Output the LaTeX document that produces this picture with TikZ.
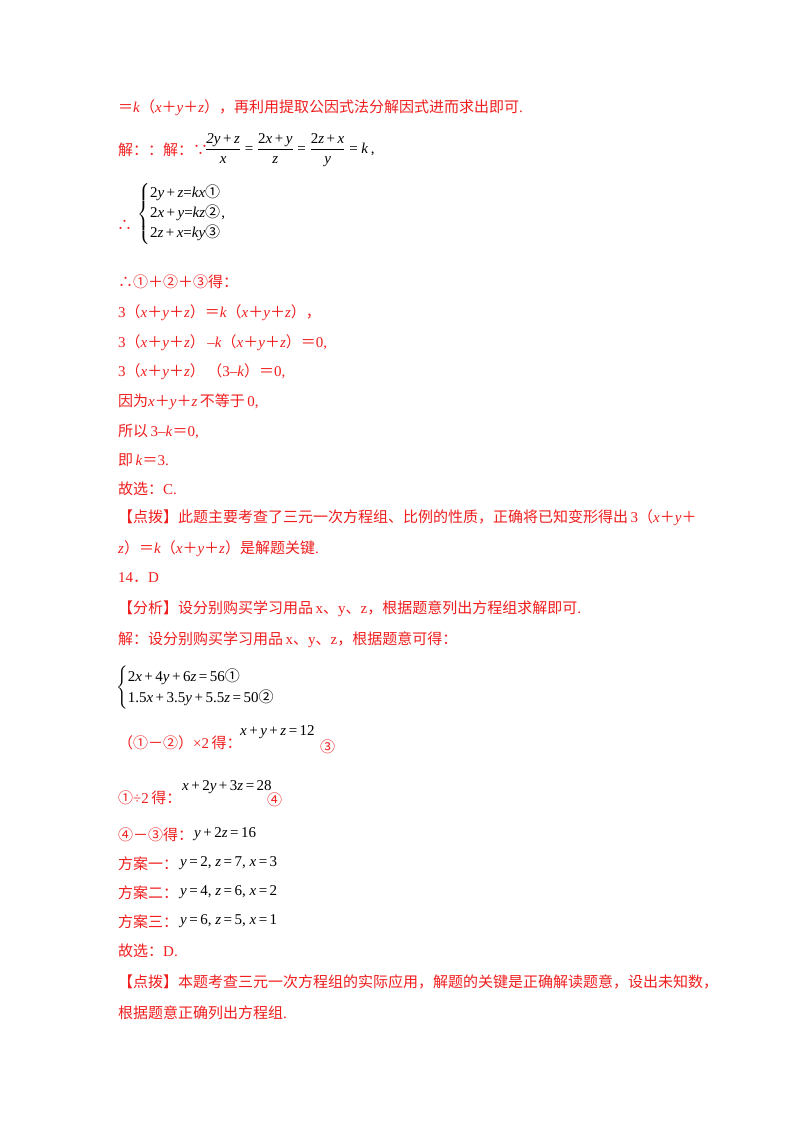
\documentclass[tikz,border=0pt]{standalone}
\usepackage{fontspec}
\usepackage{amsmath}
\setmainfont{Liberation Serif}
\newfontfamily\zhf{Noto Sans CJK SC}
\newcommand{\zh}[1]{{\zhf #1}}
\newcommand{\iv}[1]{\textit{#1}}
\newcommand{\pl}{\zh{＋}}
\newcommand{\eq}{\zh{＝}}
\newcommand{\bp}{\,+\,}
\newcommand{\be}{\,=\,}
\definecolor{rd}{RGB}{240,30,30}
\begin{document}
\begin{tikzpicture}[x=1pt,y=-1pt]
\tikzset{rt/.style={anchor=west,inner sep=0pt,text=rd,font=\fontsize{15}{18}\selectfont},
bk/.style={anchor=west,inner sep=0pt,text=black,font=\fontsize{15}{18}\selectfont}}
\useasboundingbox[fill=white] (0,0) rectangle (800,1132);
\node[rt] (l1) at (118,108) {\eq\iv{k}\zh{（}\iv{x}\pl\iv{y}\pl\iv{z}\zh{），再利用提取公因式法分解因式进而求出即可}.};
\node[rt] (l2) at (118,150) {\zh{解：：解：∵}};
\node[bk] (f2) at (205,150) {$\dfrac{\text{\iv{2y}\bp\iv{z}}}{\text{\iv{x}}}\text{ = }\dfrac{\text{2\iv{x}\bp\iv{y}}}{\text{\iv{z}}}\text{ = }\dfrac{\text{2\iv{z}\bp\iv{x}}}{\text{\iv{y}}}\text{ = \iv{k}}$\,,};
\node[rt] (l3a) at (117,225) {\zh{∴}};
\node[bk] (sys1) at (137,214) {$\left\{\begin{array}{@{}l@{}}\text{2\iv{y}\bp\iv{z}=\iv{kx}\zh{①}}\\[2pt] \text{2\iv{x}\bp\iv{y}=\iv{kz}\zh{②}}\\[2pt] \text{2\iv{z}\bp\iv{x}=\iv{ky}\zh{③}}\end{array}\right.$,};
\node[rt] (l4) at (118,282) {\zh{∴①＋②＋③得：}};
\node[rt] (l5) at (118,313) {3\zh{（}\iv{x}\pl\iv{y}\pl\iv{z}\zh{）}\eq\iv{k}\zh{（}\iv{x}\pl\iv{y}\pl\iv{z}\zh{），}};
\node[rt] (l6) at (118,343) {3\zh{（}\iv{x}\pl\iv{y}\pl\iv{z}\zh{）}\,--\iv{k}\zh{（}\iv{x}\pl\iv{y}\pl\iv{z}\zh{）}\eq0,};
\node[rt] (l7) at (118,372) {3\zh{（}\iv{x}\pl\iv{y}\pl\iv{z}\zh{）\,（}3--\iv{k}\zh{）}\eq0,};
\node[rt] (l8) at (118,402) {\zh{因为}\iv{x}\pl\iv{y}\pl\iv{z}\,\zh{不等于}\,0,};
\node[rt] (l9) at (118,431) {\zh{所以}\,3--\iv{k}\eq0,};
\node[rt] (l10) at (118,460) {\zh{即}\,\iv{k}\eq3.};
\node[rt] (l11) at (118,489) {\zh{故选：}C.};
\node[rt] (l12) at (118,518) {\zh{【点拨】此题主要考查了三元一次方程组、比例的性质，正确将已知变形得出}\,3\zh{（}\iv{x}\pl\iv{y}\pl};
\node[rt] (l13) at (118,549) {\iv{z}\zh{）}\eq\iv{k}\zh{（}\iv{x}\pl\iv{y}\pl\iv{z}\zh{）是解题关键}.};
\node[rt] (l14) at (118,578) {14\zh{．}D};
\node[rt] (l15) at (118,609) {\zh{【分析】设分别购买学习用品}\,x\zh{、}y\zh{、}z\zh{，根据题意列出方程组求解即可}.};
\node[rt] (l16) at (118,640) {\zh{解：设分别购买学习用品}\,x\zh{、}y\zh{、}z\zh{，根据题意可得：}};
\node[bk] (sys2) at (116,688) {$\left\{\begin{array}{@{}l@{}}\text{2\iv{x}\bp4\iv{y}\bp6\iv{z}\be56\zh{①}}\\[3pt] \text{1.5\iv{x}\bp3.5\iv{y}\bp5.5\iv{z}\be50\zh{②}}\end{array}\right.$};
\node[rt] (l17) at (118,743) {\zh{（①－②）}×2\,\zh{得：}};
\node[bk] (e3) at (240,732) {\iv{x}\bp\iv{y}\bp\iv{z}\be12};
\node[rt] (c3) at (320,747) {\zh{③}};
\node[rt] (l18) at (118,798) {\zh{①}÷2\,\zh{得：}};
\node[bk] (e4) at (182,787) {\iv{x}\bp2\iv{y}\bp3\iv{z}\be28};
\node[rt] (c4) at (267,800) {\zh{④}};
\node[rt] (l19) at (118,835) {\zh{④－③得：}};
\node[bk] (e5) at (194,834) {\iv{y}\bp2\iv{z}\be16};
\node[rt] (l20) at (118,864) {\zh{方案一：}};
\node[bk] (e6) at (180,863) {\iv{y}\be2, \iv{z}\be7, \iv{x}\be3};
\node[rt] (l21) at (118,893) {\zh{方案二：}};
\node[bk] (e7) at (180,892) {\iv{y}\be4, \iv{z}\be6, \iv{x}\be2};
\node[rt] (l22) at (118,922) {\zh{方案三：}};
\node[bk] (e8) at (180,921) {\iv{y}\be6, \iv{z}\be5, \iv{x}\be1};
\node[rt] (l23) at (118,951) {\zh{故选：}D.};
\node[rt] (l24) at (118,982) {\zh{【点拨】本题考查三元一次方程组的实际应用，解题的关键是正确解读题意，设出未知数，}};
\node[rt] (l25) at (118,1013) {\zh{根据题意正确列出方程组}.};
\end{tikzpicture}
\end{document}
